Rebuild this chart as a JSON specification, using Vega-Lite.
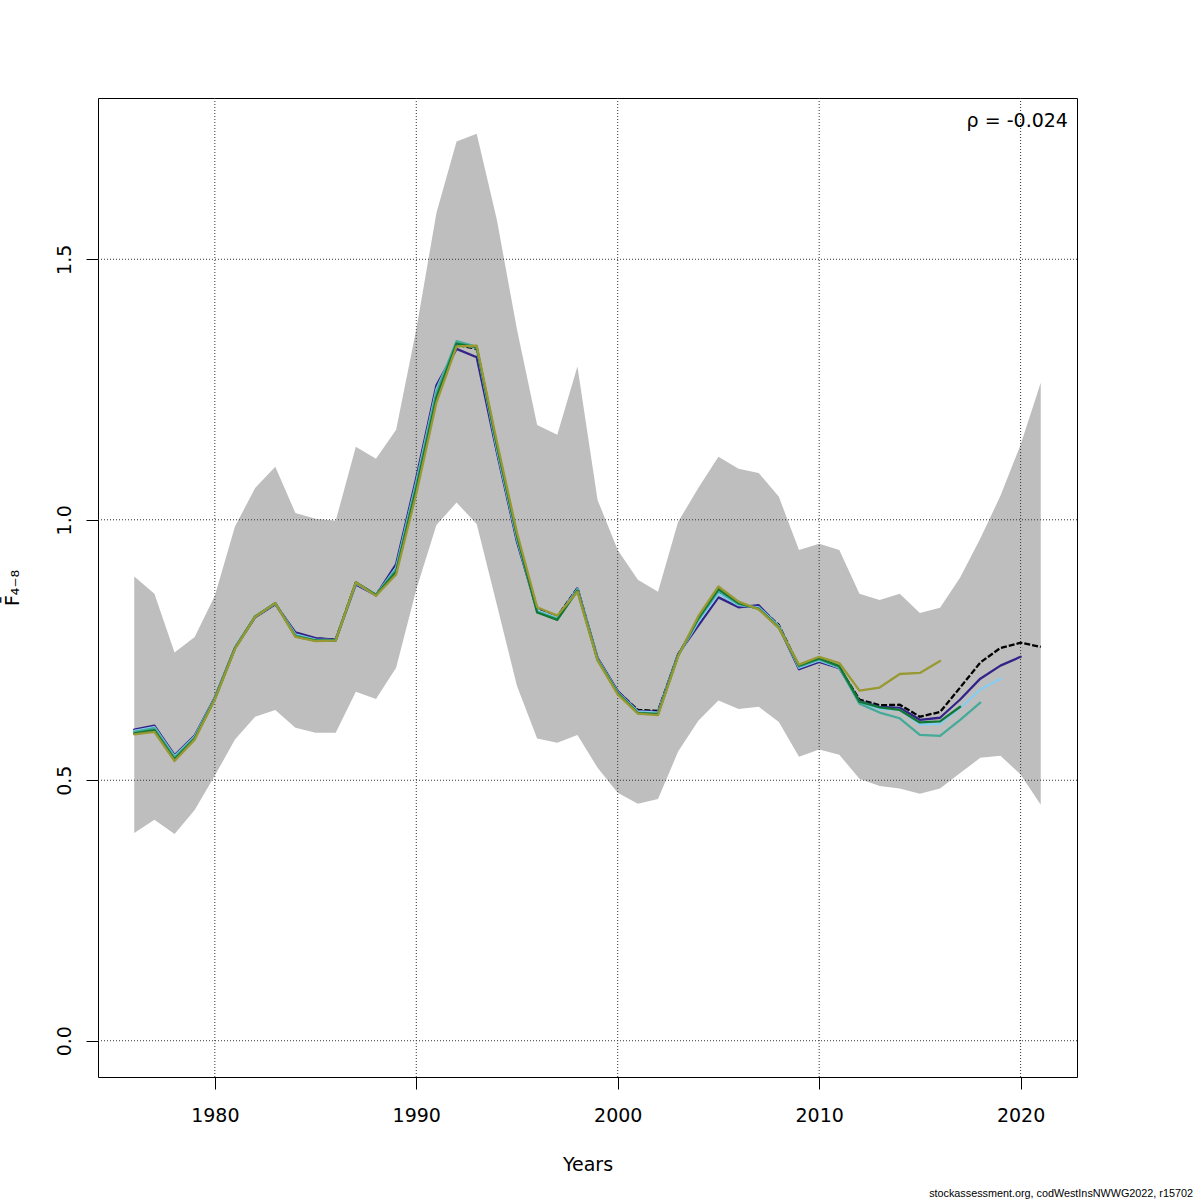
{
  "$schema": "https://vega.github.io/schema/vega-lite/v6.json",
  "width": 979,
  "height": 979,
  "autosize": {"type": "none"},
  "padding": {"left": 98, "top": 98, "right": 123, "bottom": 123},
  "background": "white",
  "title": {
    "text": "stockassessment.org, codWestInsNWWG2022, r15702",
    "orient": "bottom",
    "anchor": "end",
    "frame": "group",
    "dx": 116,
    "offset": 23,
    "baseline": "alphabetic",
    "font": "Liberation Sans",
    "fontSize": 10.8,
    "fontWeight": "normal",
    "color": "black"
  },
  "config": {
    "view": {"stroke": "black", "strokeWidth": 1},
    "font": "DejaVu Sans"
  },
  "datasets": {
    "fbar": [
      {"year": 1976, "lo": 0.399, "hi": 0.891, "r2021": 0.593, "r2020": 0.597, "r2019": 0.595, "r2018": 0.593, "r2017": 0.590, "r2016": 0.588},
      {"year": 1977, "lo": 0.424, "hi": 0.858, "r2021": 0.601, "r2020": 0.605, "r2019": 0.602, "r2018": 0.600, "r2017": 0.596, "r2016": 0.593},
      {"year": 1978, "lo": 0.397, "hi": 0.745, "r2021": 0.545, "r2020": 0.548, "r2019": 0.546, "r2018": 0.544, "r2017": 0.540, "r2016": 0.537},
      {"year": 1979, "lo": 0.443, "hi": 0.775, "r2021": 0.583, "r2020": 0.586, "r2019": 0.584, "r2018": 0.582, "r2017": 0.580, "r2016": 0.578},
      {"year": 1980, "lo": 0.509, "hi": 0.854, "r2021": 0.658, "r2020": 0.659, "r2019": 0.658, "r2018": 0.657, "r2017": 0.656, "r2016": 0.655},
      {"year": 1981, "lo": 0.578, "hi": 0.987, "r2021": 0.754, "r2020": 0.754, "r2019": 0.754, "r2018": 0.754, "r2017": 0.753, "r2016": 0.752},
      {"year": 1982, "lo": 0.622, "hi": 1.061, "r2021": 0.814, "r2020": 0.813, "r2019": 0.814, "r2018": 0.815, "r2017": 0.814, "r2016": 0.814},
      {"year": 1983, "lo": 0.635, "hi": 1.102, "r2021": 0.839, "r2020": 0.838, "r2019": 0.839, "r2018": 0.840, "r2017": 0.840, "r2016": 0.840},
      {"year": 1984, "lo": 0.601, "hi": 1.013, "r2021": 0.781, "r2020": 0.784, "r2019": 0.780, "r2018": 0.778, "r2017": 0.776, "r2016": 0.775},
      {"year": 1985, "lo": 0.591, "hi": 1.002, "r2021": 0.772, "r2020": 0.773, "r2019": 0.770, "r2018": 0.769, "r2017": 0.768, "r2016": 0.767},
      {"year": 1986, "lo": 0.591, "hi": 0.998, "r2021": 0.770, "r2020": 0.770, "r2019": 0.769, "r2018": 0.769, "r2017": 0.768, "r2016": 0.768},
      {"year": 1987, "lo": 0.670, "hi": 1.140, "r2021": 0.879, "r2020": 0.876, "r2019": 0.878, "r2018": 0.879, "r2017": 0.880, "r2016": 0.880},
      {"year": 1988, "lo": 0.656, "hi": 1.117, "r2021": 0.856, "r2020": 0.855, "r2019": 0.855, "r2018": 0.856, "r2017": 0.855, "r2016": 0.854},
      {"year": 1989, "lo": 0.716, "hi": 1.173, "r2021": 0.905, "r2020": 0.915, "r2019": 0.908, "r2018": 0.905, "r2017": 0.900, "r2016": 0.895},
      {"year": 1990, "lo": 0.866, "hi": 1.365, "r2021": 1.070, "r2020": 1.080, "r2019": 1.072, "r2018": 1.068, "r2017": 1.060, "r2016": 1.050},
      {"year": 1991, "lo": 0.990, "hi": 1.589, "r2021": 1.246, "r2020": 1.258, "r2019": 1.250, "r2018": 1.245, "r2017": 1.235, "r2016": 1.225},
      {"year": 1992, "lo": 1.033, "hi": 1.726, "r2021": 1.336, "r2020": 1.328, "r2019": 1.338, "r2018": 1.343, "r2017": 1.338, "r2016": 1.333},
      {"year": 1993, "lo": 0.992, "hi": 1.741, "r2021": 1.328, "r2020": 1.312, "r2019": 1.330, "r2018": 1.332, "r2017": 1.331, "r2016": 1.334},
      {"year": 1994, "lo": 0.837, "hi": 1.576, "r2021": 1.134, "r2020": 1.130, "r2019": 1.136, "r2018": 1.140, "r2017": 1.144, "r2016": 1.150},
      {"year": 1995, "lo": 0.681, "hi": 1.365, "r2021": 0.962, "r2020": 0.958, "r2019": 0.963, "r2018": 0.966, "r2017": 0.970, "r2016": 0.975},
      {"year": 1996, "lo": 0.580, "hi": 1.182, "r2021": 0.829, "r2020": 0.826, "r2019": 0.826, "r2018": 0.824, "r2017": 0.822, "r2016": 0.832},
      {"year": 1997, "lo": 0.572, "hi": 1.163, "r2021": 0.814, "r2020": 0.812, "r2019": 0.812, "r2018": 0.810, "r2017": 0.808, "r2016": 0.816},
      {"year": 1998, "lo": 0.587, "hi": 1.294, "r2021": 0.869, "r2020": 0.868, "r2019": 0.867, "r2018": 0.866, "r2017": 0.864, "r2016": 0.862},
      {"year": 1999, "lo": 0.524, "hi": 1.038, "r2021": 0.733, "r2020": 0.735, "r2019": 0.733, "r2018": 0.732, "r2017": 0.731, "r2016": 0.730},
      {"year": 2000, "lo": 0.476, "hi": 0.942, "r2021": 0.670, "r2020": 0.671, "r2019": 0.669, "r2018": 0.668, "r2017": 0.667, "r2016": 0.665},
      {"year": 2001, "lo": 0.455, "hi": 0.885, "r2021": 0.635, "r2020": 0.633, "r2019": 0.632, "r2018": 0.630, "r2017": 0.629, "r2016": 0.628},
      {"year": 2002, "lo": 0.464, "hi": 0.862, "r2021": 0.633, "r2020": 0.631, "r2019": 0.630, "r2018": 0.628, "r2017": 0.627, "r2016": 0.625},
      {"year": 2003, "lo": 0.555, "hi": 0.996, "r2021": 0.741, "r2020": 0.742, "r2019": 0.740, "r2018": 0.740, "r2017": 0.739, "r2016": 0.738},
      {"year": 2004, "lo": 0.614, "hi": 1.061, "r2021": 0.806, "r2020": 0.797, "r2019": 0.804, "r2018": 0.808, "r2017": 0.811, "r2016": 0.815},
      {"year": 2005, "lo": 0.653, "hi": 1.121, "r2021": 0.860, "r2020": 0.851, "r2019": 0.858, "r2018": 0.863, "r2017": 0.867, "r2016": 0.872},
      {"year": 2006, "lo": 0.637, "hi": 1.098, "r2021": 0.835, "r2020": 0.832, "r2019": 0.836, "r2018": 0.838, "r2017": 0.840, "r2016": 0.843},
      {"year": 2007, "lo": 0.641, "hi": 1.090, "r2021": 0.833, "r2020": 0.836, "r2019": 0.832, "r2018": 0.830, "r2017": 0.829, "r2016": 0.828},
      {"year": 2008, "lo": 0.612, "hi": 1.044, "r2021": 0.798, "r2020": 0.795, "r2019": 0.796, "r2018": 0.794, "r2017": 0.793, "r2016": 0.792},
      {"year": 2009, "lo": 0.545, "hi": 0.942, "r2021": 0.718, "r2020": 0.713, "r2019": 0.716, "r2018": 0.718, "r2017": 0.720, "r2016": 0.722},
      {"year": 2010, "lo": 0.559, "hi": 0.954, "r2021": 0.731, "r2020": 0.727, "r2019": 0.730, "r2018": 0.732, "r2017": 0.734, "r2016": 0.737},
      {"year": 2011, "lo": 0.549, "hi": 0.942, "r2021": 0.716, "r2020": 0.715, "r2019": 0.716, "r2018": 0.717, "r2017": 0.719, "r2016": 0.725},
      {"year": 2012, "lo": 0.503, "hi": 0.858, "r2021": 0.655, "r2020": 0.652, "r2019": 0.650, "r2018": 0.647, "r2017": 0.651, "r2016": 0.672},
      {"year": 2013, "lo": 0.489, "hi": 0.846, "r2021": 0.644, "r2020": 0.641, "r2019": 0.637, "r2018": 0.630, "r2017": 0.640, "r2016": 0.678},
      {"year": 2014, "lo": 0.484, "hi": 0.858, "r2021": 0.645, "r2020": 0.639, "r2019": 0.635, "r2018": 0.619, "r2017": 0.635, "r2016": 0.704},
      {"year": 2015, "lo": 0.474, "hi": 0.821, "r2021": 0.622, "r2020": 0.616, "r2019": 0.607, "r2018": 0.587, "r2017": 0.611, "r2016": 0.706},
      {"year": 2016, "lo": 0.484, "hi": 0.831, "r2021": 0.631, "r2020": 0.620, "r2019": 0.608, "r2018": 0.585, "r2017": 0.613, "r2016": 0.729},
      {"year": 2017, "lo": 0.514, "hi": 0.889, "r2021": 0.678, "r2020": 0.655, "r2019": 0.639, "r2018": 0.616, "r2017": 0.641},
      {"year": 2018, "lo": 0.543, "hi": 0.964, "r2021": 0.726, "r2020": 0.695, "r2019": 0.674, "r2018": 0.649},
      {"year": 2019, "lo": 0.547, "hi": 1.046, "r2021": 0.754, "r2020": 0.720, "r2019": 0.695},
      {"year": 2020, "lo": 0.511, "hi": 1.144, "r2021": 0.764, "r2020": 0.737},
      {"year": 2021, "lo": 0.453, "hi": 1.263, "r2021": 0.756}
    ],
    "xgrid": [{"year": 1980}, {"year": 1990}, {"year": 2000}, {"year": 2010}, {"year": 2020}],
    "ygrid": [{"F": 0}, {"F": 0.5}, {"F": 1.0}, {"F": 1.5}],
    "note": [{"year": 2022.35, "F": 1.754, "label": "ρ = -0.024"}]
  },
  "layer": [
    {
      "data": {"name": "fbar"},
      "mark": {"type": "area", "color": "#BEBEBE", "opacity": 1},
      "encoding": {
        "x": {
          "field": "year",
          "type": "quantitative",
          "scale": {"domain": [1974.2, 2022.8], "nice": false, "zero": false},
          "axis": {
            "values": [1980, 1990, 2000, 2010, 2020],
            "format": "d",
            "domain": false,
            "grid": false,
            "tickSize": 12,
            "tickColor": "black",
            "labelFontSize": 19,
            "labelColor": "black",
            "labelBaseline": "alphabetic",
            "labelPadding": 32,
            "title": "Years",
            "titleFontSize": 19,
            "titleFontWeight": "normal",
            "titleColor": "black",
            "titleBaseline": "alphabetic",
            "titleX": 489.5,
            "titleY": 93
          }
        },
        "y": {
          "field": "lo",
          "type": "quantitative",
          "scale": {"domain": [-0.0696, 1.8096], "nice": false, "zero": false},
          "axis": {
            "values": [0, 0.5, 1.0, 1.5],
            "format": ".1f",
            "domain": false,
            "grid": false,
            "tickSize": 12,
            "tickColor": "black",
            "labelFontSize": 19,
            "labelColor": "black",
            "labelAngle": -90,
            "labelAlign": "center",
            "labelBaseline": "alphabetic",
            "labelPadding": 16,
            "title": "F̄₄₋₈",
            "titleFontSize": 19,
            "titleFontWeight": "normal",
            "titleColor": "black",
            "titleAngle": -90,
            "titleAlign": "center",
            "titleBaseline": "alphabetic",
            "titleX": -80,
            "titleY": 489.5
          }
        },
        "y2": {"field": "hi"}
      }
    },
    {
      "data": {"name": "xgrid"},
      "mark": {"type": "rule", "color": "#333333", "strokeDash": [1, 2], "strokeWidth": 1},
      "encoding": {
        "x": {"field": "year", "type": "quantitative"}
      }
    },
    {
      "data": {"name": "ygrid"},
      "mark": {"type": "rule", "color": "#333333", "strokeDash": [1, 2], "strokeWidth": 1},
      "encoding": {
        "y": {"field": "F", "type": "quantitative"}
      }
    },
    {
      "data": {"name": "fbar"},
      "mark": {"type": "line", "color": "black", "strokeWidth": 2.3, "strokeDash": [6, 2]},
      "encoding": {
        "x": {"field": "year", "type": "quantitative"},
        "y": {"field": "r2021", "type": "quantitative"}
      }
    },
    {
      "data": {"name": "fbar"},
      "mark": {"type": "line", "color": "#332288", "strokeWidth": 2.3, "strokeJoin": "round", "strokeCap": "round"},
      "encoding": {
        "x": {"field": "year", "type": "quantitative"},
        "y": {"field": "r2020", "type": "quantitative"}
      }
    },
    {
      "data": {"name": "fbar"},
      "mark": {"type": "line", "color": "#88CCEE", "strokeWidth": 2.3, "strokeJoin": "round", "strokeCap": "round"},
      "encoding": {
        "x": {"field": "year", "type": "quantitative"},
        "y": {"field": "r2019", "type": "quantitative"}
      }
    },
    {
      "data": {"name": "fbar"},
      "mark": {"type": "line", "color": "#44AA99", "strokeWidth": 2.3, "strokeJoin": "round", "strokeCap": "round"},
      "encoding": {
        "x": {"field": "year", "type": "quantitative"},
        "y": {"field": "r2018", "type": "quantitative"}
      }
    },
    {
      "data": {"name": "fbar"},
      "mark": {"type": "line", "color": "#117733", "strokeWidth": 2.3, "strokeJoin": "round", "strokeCap": "round"},
      "encoding": {
        "x": {"field": "year", "type": "quantitative"},
        "y": {"field": "r2017", "type": "quantitative"}
      }
    },
    {
      "data": {"name": "fbar"},
      "mark": {"type": "line", "color": "#999933", "strokeWidth": 2.3, "strokeJoin": "round", "strokeCap": "round"},
      "encoding": {
        "x": {"field": "year", "type": "quantitative"},
        "y": {"field": "r2016", "type": "quantitative"}
      }
    },
    {
      "data": {"name": "note"},
      "mark": {"type": "text", "align": "right", "baseline": "alphabetic", "fontSize": 19, "color": "black"},
      "encoding": {
        "x": {"field": "year", "type": "quantitative"},
        "y": {"field": "F", "type": "quantitative"},
        "text": {"field": "label"}
      }
    }
  ]
}
